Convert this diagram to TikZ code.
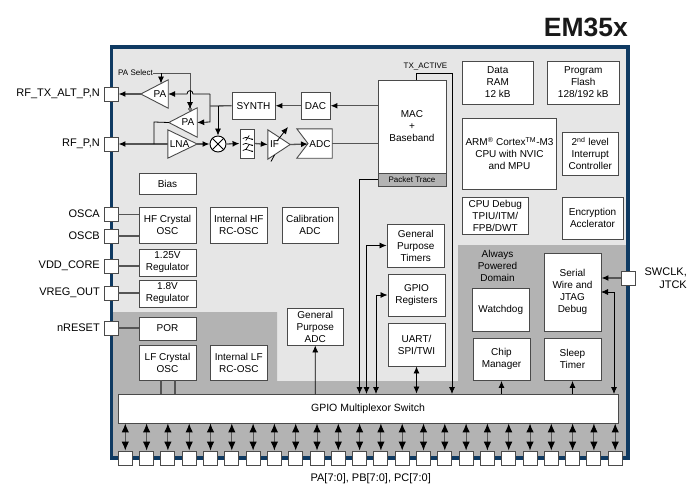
\documentclass[tikz,border=0pt]{standalone}
\usepackage{fontspec}
\setmainfont{Liberation Sans}
\usetikzlibrary{arrows.meta,calc}
\definecolor{frameblue}{HTML}{0F3A62}
\definecolor{lightbg}{HTML}{E6E6E6}
\definecolor{darkbg}{HTML}{B3B3B3}
\definecolor{edgegray}{HTML}{4A4A4A}
\definecolor{siggray}{HTML}{555555}
\newcommand{\fs}[1]{\fontsize{#1}{12}\selectfont}
% \blk[style]{name}{x1}{y1}{x2}{y2}{text}
\newcommand{\blk}[7][blockbox]{%
  \pgfmathsetmacro{\cxx}{(#3+#5)/2}\pgfmathsetmacro{\cyy}{(#4+#6)/2}%
  \pgfmathsetmacro{\wxx}{#5-#3}\pgfmathsetmacro{\hyy}{#6-#4}%
  \node[#1,minimum width=\wxx pt,minimum height=\hyy pt] (#2) at (\cxx,\cyy) {#7};%
}
\tikzset{
  blockbox/.style={draw=edgegray,fill=white,line width=0.9pt,inner sep=0pt,align=center,font=\fs{10}},
  smallbox/.style={blockbox,font=\fs{8}},
  tribox/.style={inner sep=0pt},
  trishape/.style={draw=edgegray,fill=white,line width=0.9pt,line join=miter},
  txt/.style={inner sep=0pt,align=center,font=\fs{10}},
  pinbox/.style={draw=edgegray,fill=white,line width=0.9pt,minimum width=14pt,minimum height=14pt,inner sep=0pt},
  pinlabel/.style={inner sep=0pt,anchor=east,font=\fs{11}},
  sig/.style={draw=siggray,line width=1.3pt},
  wire/.style={draw=black,line width=0.8pt},
  arr/.style={-{Latex[length=7pt,width=6pt,black]}},
  biarr/.style={{Latex[length=7pt,width=6pt,black]}-{Latex[length=7pt,width=6pt,black]}},
  bigbi/.style={{Latex[length=9pt,width=7.5pt,black]}-{Latex[length=9pt,width=7.5pt,black]}}
}
\begin{document}
\begin{tikzpicture}[x=1pt,y=-1pt]
\useasboundingbox (0,0) rectangle (700,493);
% backgrounds
\fill[lightbg] (111,47) rectangle (628,458);
\fill[darkbg] (111,312) -- (277,312) -- (277,381) -- (458,381) -- (458,245) -- (628,245) -- (628,458) -- (111,458) -- cycle;
\draw[frameblue,line width=3.2pt] (111.5,47) rectangle (628,458);
% title
\node[inner sep=0pt,anchor=east,font=\bfseries\fontsize{26.5}{28}\selectfont,text=black!90] (title) at (628,27) {EM35x};
% pins
\node[pinbox] (ptx) at (111,94) {};
\node[pinbox] (prf) at (111,144) {};
\node[pinbox] (posca) at (111,214.5) {};
\node[pinbox] (poscb) at (111,236) {};
\node[pinbox] (pvdd) at (111,266) {};
\node[pinbox] (pvreg) at (111,293) {};
\node[pinbox] (prst) at (111,328) {};
\node[pinbox] (pswd) at (628.7,278) {};
\node[pinlabel] (ltx) at (100,94) {RF\_TX\_ALT\_P,N};
\node[pinlabel] (lrf) at (100,144) {RF\_P,N};
\node[pinlabel] (losca) at (100,214) {OSCA};
\node[pinlabel] (loscb) at (100,236) {OSCB};
\node[pinlabel] (lvdd) at (100,266) {VDD\_CORE};
\node[pinlabel] (lvreg) at (100,293) {VREG\_OUT};
\node[pinlabel] (lrst) at (100,328) {nRESET};
\node[inner sep=0pt,anchor=north east,align=right,font=\fontsize{11}{13}\selectfont] (lswd) at (687,268) {SWCLK,\\JTCK};
\node[inner sep=0pt,font=\fs{11}] (lport) at (370.7,479) {PA[7:0], PB[7:0], PC[7:0]};
% left column blocks
\blk{bias}{139}{173}{196}{194}{Bias}
\blk{hf}{139}{207.5}{196}{243}{HF Crystal\\OSC}
\blk{ihf}{210.5}{207.5}{267}{243}{Internal HF\\RC-OSC}
\blk{cal}{282}{207.5}{338}{243}{Calibration\\ADC}
\blk{regb}{139}{249}{196}{276}{1.25V\\Regulator}
\blk{regc}{139}{280}{196}{307}{1.8V\\Regulator}
\blk{por}{139}{317}{196}{340}{POR}
\blk{lf}{139}{345}{196}{380}{LF Crystal\\OSC}
\blk{ilf}{210.5}{345}{267}{380}{Internal LF\\RC-OSC}
\blk{gpadc}{287}{308}{343.5}{345}{General\\Purpose\\ADC}
% centre blocks
\blk{timers}{387}{224}{444.5}{267}{General\\Purpose\\Timers}
\blk{gpior}{388}{274}{445}{316}{GPIO\\Registers}
\blk{uart}{388}{323}{445}{366}{UART/\\SPI/TWI}
\blk{mac}{378}{80}{446}{173}{MAC\\+\\Baseband}
\blk[smallbox,fill=darkbg]{ptrace}{378}{173}{446}{186}{Packet Trace}
% right blocks
\blk{ram}{462.5}{61}{533}{104}{Data\\RAM\\12 kB}
\blk{flash}{547.5}{61}{619}{104}{Program\\Flash\\128/192 kB}
\blk{arm}{462.5}{118}{556.5}{189}{ARM\textsuperscript{\textregistered} Cortex\textsuperscript{TM}-M3\\CPU with NVIC\\and MPU}
\blk{irq}{562.5}{132}{618}{175}{2\textsuperscript{nd} level\\Interrupt\\Controller}
\blk{dbg}{462.5}{197}{528}{234}{CPU Debug\\TPIU/ITM/\\FPB/DWT}
\blk{enc}{562}{197}{623}{239}{Encryption\\Acclerator}
\node[txt] (apd) at (497.5,266) {Always\\Powered\\Domain};
\blk{wdog}{472}{288}{529.5}{331}{Watchdog}
\blk{serial}{544}{253}{601}{331}{Serial\\Wire and\\JTAG\\Debug}
\blk{chip}{473}{338}{530}{380.5}{Chip\\Manager}
\blk{sleep}{544}{338}{601}{380.5}{Sleep\\Timer}
\blk{mux}{118}{394}{618}{423}{\fontsize{10.5}{12}\selectfont GPIO Multiplexor Switch}
% RF blocks
\blk{synth}{232}{92}{275}{119.5}{SYNTH}
\blk{dac}{301}{92}{330}{119.5}{DAC}
\blk{filt}{240}{129}{254.5}{158}{}
\node[blockbox,draw=black,shape=circle,minimum size=16pt] (mix) at (218,144) {};
\draw[black,line width=0.9pt] (mix.45) -- (mix.225) (mix.135) -- (mix.315);
\foreach \yy in {138,144,150}{
  \draw[black,line width=0.7pt] ($(filt.center)+(-4.5,\yy-143)$) .. controls +(2.5,-4) and +(4,4) .. +(9,0);
}
\draw[black,line width=0.7pt] ($(filt.center)+(2,-8)$) -- ($(filt.center)+(-1.5,-3)$);
\draw[black,line width=0.7pt] ($(filt.center)+(2,1)$) -- ($(filt.center)+(-1.5,6)$);
% triangles
\blk[tribox]{pa1}{141}{80}{168}{108}{}
\blk[tribox]{pa2}{169}{108}{197}{137}{}
\blk[tribox]{lna}{168}{130}{197}{158}{}
\blk[tribox]{ifa}{268}{130}{290}{159}{}
\blk[tribox]{adc}{297}{129}{332}{158}{}
\draw[trishape] (pa1.west) -- (pa1.north east) -- (pa1.south east) -- cycle;
\draw[trishape] (pa2.west) -- (pa2.north east) -- (pa2.south east) -- cycle;
\draw[trishape] (lna.north west) -- (lna.east) -- (lna.south west) -- cycle;
\draw[trishape] (ifa.north west) -- (ifa.east) -- (ifa.south west) -- cycle;
\draw[trishape] (adc.north west) -- (adc.north east) -- (adc.south east) -- (adc.south west) -- (308,143.5) -- cycle;
\node[txt] (tpa1) at (160,94) {PA};
\node[txt] (tpa2) at (188,122) {PA};
\node[txt] (tlna) at (179.5,144) {LNA};
\node[txt] (tif) at (274.5,144) {IF};
\node[txt] (tadc) at (320,144) {ADC};
\draw[wire,arr] (277,141) -- (288,127);
\draw[wire] (271,161.5) -- (274.5,155);
% small labels
\node[inner sep=0pt,font=\fs{8}] (sel) at (135.5,73) {PA Select};
\node[inner sep=0pt,font=\fs{8}] (txa) at (425.5,66) {TX\_ACTIVE};
% junction points
\coordinate (jsel) at (190,73);
\coordinate (jsyn) at (210,106);
\coordinate (jmix) at (218,106);
\coordinate (pa1arr) at (161,83.5);
\coordinate (pa2top) at (190,109);
% RF connectors
\draw[sig,arr] (pa1.west) -- (ptx.east);
\draw[sig,arr] (lna.west) -- (prf.east);
\draw[wire] (pa2.west) -- (154,122) -- (154,144);
\draw[sig,line width=1pt] (sel.east) -- (jsel) -- (pa2top);
\draw[wire,arr] (161,73) -- (pa1arr);
\draw[wire,arr] (190,90) -- (pa2top);
\draw[black,fill=white,line width=0.5pt] (pa2top) circle (1.5pt);
\draw[wire,arr] (210,94) -- (193,94) .. controls (193,89.5) and (187,89.5) .. (187,94) -- (pa1.east);
\draw[wire,arr] (210,94) -- (210,122) -- (pa2.east);
\draw[sig] (synth.west) -- (jsyn);
\draw[wire,arr] (jmix) -- (mix.north);
\draw[sig,arr] (lna.east) -- (mix.west);
\draw[sig,arr] (mix.east) -- (filt.west);
\draw[sig,arr] (filt.east) -- (ifa.west);
\draw[sig,arr] (ifa.east) -- (308,144);
\draw[sig] (adc.east) -- (adc.east -| mac.west);
\draw[sig,arr] (dac.west) -- (synth.east);
\draw[sig,arr] (dac.east -| mac.west) -- (dac.east);
% clock and power
\draw[sig] (posca.east) -- (posca.east -| hf.west);
\draw[sig] (poscb.east) -- (poscb.east -| hf.west);
\draw[sig] (pvdd.east) -- (pvdd.east -| regb.west);
\draw[sig] (pvreg.east) -- (pvreg.east -| regc.west);
\draw[sig] (prst.east) -- (prst.east -| por.west);
\draw[sig] (161,380) -- (161,394);
\draw[sig] (175,380) -- (175,394);
% mux connections
\draw[wire,arr] (ptrace.west) -- (359.5,179.5) -- (359.5,394);
\draw[wire,arr] (416,80) -- (416,73) -- (452,73) -- (452,394);
\draw[wire,biarr] (timers.west) -- (366.5,245.5) -- (366.5,394);
\draw[wire,biarr] (gpior.west) -- (376,295) -- (376,394);
\draw[wire,biarr] (uart.south) -- (uart.south |- mux.north);
\draw[wire,arr] (315.2,394) -- (gpadc.south);
\draw[wire,arr] (chip.south |- mux.north) -- (chip.south);
\draw[wire,arr] (sleep.south |- mux.north) -- (sleep.south);
\draw[sig,arr] (pswd.west) -- (serial.east |- pswd.west);
\draw[wire,biarr] (601,292) -- (614,292) -- (614,394);
% bottom pins
\foreach \i in {0,...,23}{
  \pgfmathsetmacro{\px}{125.3+21.3*\i}
  \node[pinbox] (b\i) at (\px,458) {};
  \draw[sig,line width=1pt,bigbi] (b\i.north) -- (b\i.north |- mux.south);
}
\end{tikzpicture}
\end{document}
